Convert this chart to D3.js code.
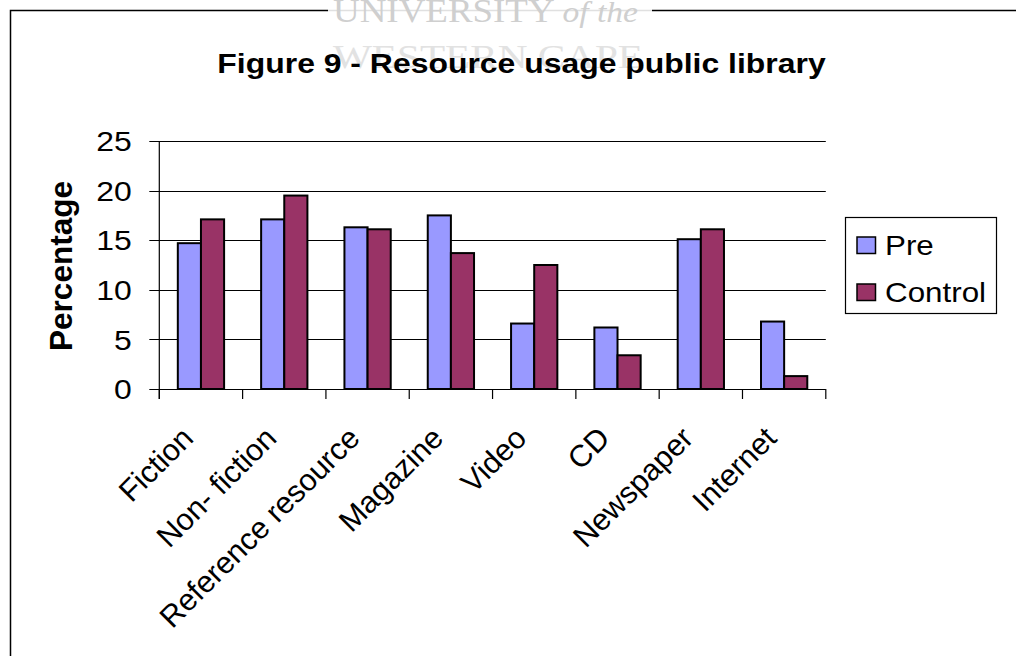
<!DOCTYPE html>
<html>
<head>
<meta charset="utf-8">
<script src="https://cdn.jsdelivr.net/npm/d3@7"></script>
<style>
  html, body { margin: 0; padding: 0; background: #fff; }
  svg { display: block; }
</style>
</head>
<body>
<div id="chart"></div>
<script>
// Resource usage in the public library, pre-test vs control group (%)
const categories = ["Fiction", "Non- fiction", "Reference resource", "Magazine", "Video", "CD", "Newspaper", "Internet"];
const seriesNames = ["Pre", "Control"];
const preValues = [14.7, 17.1, 16.3, 17.5, 6.6, 6.2, 15.1, 6.8];
const controlValues = [17.1, 19.5, 16.1, 13.7, 12.5, 3.4, 16.1, 1.3];
const yTicks = [0, 5, 10, 15, 20, 25];

const seriesColors = ["#9999FF", "#993366"];
const W = 1016, H = 656;
const SX = 1.12; // horizontal stretch applied to horizontal text glyphs
const FONT = "Liberation Sans, Arial, Helvetica, sans-serif";

const svg = d3.select("#chart").append("svg")
  .attr("width", W).attr("height", H);

// outer frame
svg.append("rect")
  .attr("x", 10.5).attr("y", 10.5)
  .attr("width", 1100).attr("height", 1000)
  .attr("fill", "none").attr("stroke", "#000").attr("stroke-width", 1.5);

// faint university mark at the top
const mark = svg.append("g");
mark.append("rect")
  .attr("x", 328).attr("y", 0).attr("width", 324).attr("height", 95)
  .attr("fill", "#fff").attr("opacity", 0.88);
mark.append("text")
  .attr("x", 333).attr("y", 22)
  .attr("font-family", "Liberation Serif, Times New Roman, serif")
  .attr("font-size", 33).attr("fill", "#cfcfcf")
  .attr("textLength", 305).attr("lengthAdjust", "spacingAndGlyphs")
  .call(t => {
    t.append("tspan").text("UNIVERSITY ");
    t.append("tspan").attr("font-style", "italic").attr("font-size", 30).text("of the");
  });
mark.append("text")
  .attr("x", 333).attr("y", 68)
  .attr("font-family", "Liberation Serif, Times New Roman, serif")
  .attr("font-size", 33).attr("fill", "#e2e2e2")
  .attr("textLength", 310).attr("lengthAdjust", "spacingAndGlyphs")
  .text("WESTERN CAPE");

// title
svg.append("text")
  .attr("transform", `translate(521.5,73.3) scale(${SX},1)`)
  .attr("text-anchor", "middle")
  .attr("font-family", FONT).attr("font-weight", "bold").attr("font-size", 28.5)
  .attr("fill", "#000")
  .text("Figure 9 - Resource usage public library");

// plot geometry
const plot = { left: 159.3, right: 825.8, top: 141, bottom: 389 };

const x = d3.scaleBand().domain(categories).range([plot.left, plot.right]).padding(0);
const xs = d3.scaleBand().domain(seriesNames).range([0, x.step()]).paddingInner(0).paddingOuter(0.8);
const y = d3.scaleLinear().domain([0, 25]).range([plot.bottom, plot.top]);

// gridlines (extend left as tick marks)
svg.append("g")
  .selectAll("line").data(yTicks.filter(d => d > 0)).join("line")
  .attr("x1", plot.left - 10).attr("x2", plot.right)
  .attr("y1", d => Math.round(y(d)) + 0.5).attr("y2", d => Math.round(y(d)) + 0.5)
  .attr("stroke", "#000").attr("stroke-width", 1.2);

// y tick labels
svg.append("g")
  .selectAll("text").data(yTicks).join("text")
  .attr("transform", d => `translate(131.7,${y(d)}) scale(${SX},1)`)
  .attr("text-anchor", "end").attr("dy", "0.36em")
  .attr("font-family", FONT).attr("font-size", 28.5).attr("fill", "#000")
  .text(d => d);

// y-axis title
svg.append("text")
  .attr("transform", `translate(72,266) rotate(-90)`)
  .attr("text-anchor", "middle")
  .attr("font-family", FONT).attr("font-weight", "bold").attr("font-size", 31.5)
  .attr("fill", "#000")
  .text("Percentage");

// bars
const rows = categories.map((c, i) => ({ cat: c, vals: [preValues[i], controlValues[i]] }));
const groups = svg.append("g").selectAll("g").data(rows).join("g")
  .attr("transform", d => `translate(${x(d.cat)},0)`);
groups.selectAll("rect")
  .data(d => d.vals.map((v, k) => ({ key: seriesNames[k], v, k })))
  .join("rect")
  .attr("x", d => xs(d.key))
  .attr("width", xs.bandwidth())
  .attr("y", d => y(d.v))
  .attr("height", d => y(0) - y(d.v))
  .attr("fill", d => seriesColors[d.k])
  .attr("stroke", "#000").attr("stroke-width", 2);

// axis lines
svg.append("line")
  .attr("x1", plot.left).attr("x2", plot.left)
  .attr("y1", plot.top).attr("y2", plot.bottom + 10)
  .attr("stroke", "#000").attr("stroke-width", 1.2);
svg.append("line")
  .attr("x1", plot.left - 10).attr("x2", plot.right)
  .attr("y1", plot.bottom + 0.5).attr("y2", plot.bottom + 0.5)
  .attr("stroke", "#000").attr("stroke-width", 1.2);

// category boundary ticks
const bounds = categories.map(c => x(c)).concat([plot.right]);
svg.append("g").selectAll("line").data(bounds).join("line")
  .attr("x1", d => d).attr("x2", d => d)
  .attr("y1", plot.bottom).attr("y2", plot.bottom + 10)
  .attr("stroke", "#000").attr("stroke-width", 1.2);

// category labels, rotated 45 degrees
svg.append("g").selectAll("text").data(categories).join("text")
  .attr("transform", d => `translate(${x(d) + x.bandwidth() / 2 - 6},440) rotate(-45)`)
  .attr("text-anchor", "end")
  .attr("font-family", FONT).attr("font-size", 30.5).attr("fill", "#000")
  .text(d => d);

// legend
const lg = svg.append("g");
lg.append("rect")
  .attr("x", 845.5).attr("y", 217.5).attr("width", 151).attr("height", 96)
  .attr("fill", "#fff").attr("stroke", "#000").attr("stroke-width", 1.2);
const items = lg.selectAll("g").data(seriesNames).join("g")
  .attr("transform", (d, i) => `translate(0,${i * 47})`);
items.append("rect")
  .attr("x", 857).attr("y", 237).attr("width", 18.5).attr("height", 16.5)
  .attr("fill", (d, i) => seriesColors[i])
  .attr("stroke", "#000").attr("stroke-width", 1.5);
items.append("text")
  .attr("transform", `translate(885,254.5) scale(${SX},1)`)
  .attr("font-family", FONT).attr("font-size", 28).attr("fill", "#000")
  .text(d => d);
</script>
</body>
</html>
